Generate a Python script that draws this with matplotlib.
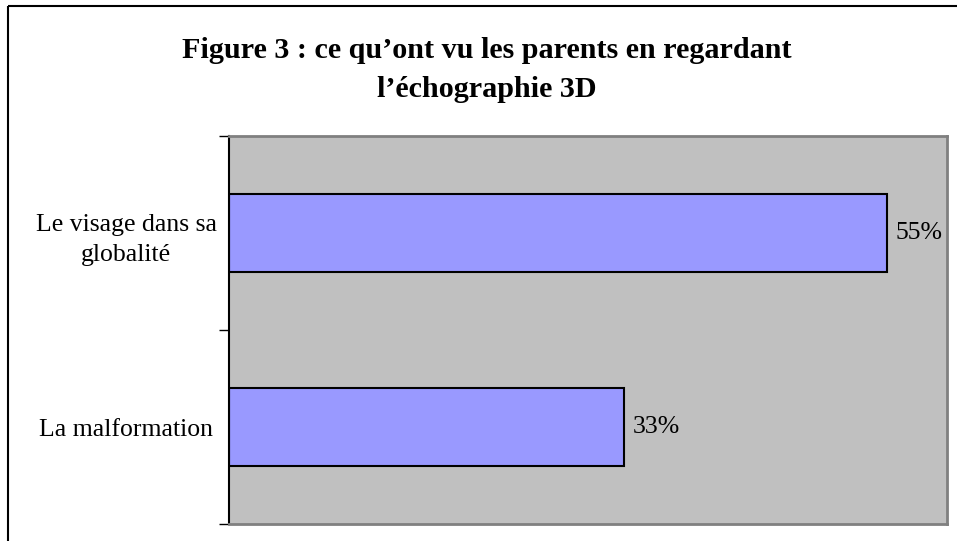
import numpy as np
import matplotlib.pyplot as plt
from matplotlib.patches import Rectangle

# data
categories = ['La malformation', 'Le visage dans sa\nglobalité']
values = [0.33, 0.55]
title = "Figure 3 : ce qu\u2019ont vu les parents en regardant\nl\u2019échographie 3D"

plt.rcParams['font.family'] = ['Liberation Serif', 'DejaVu Serif']

W, H = 957, 541
fig = plt.figure(figsize=(W / 100, H / 100), dpi=100)

# outer frame (only top and left edges visible)
fig.patches.append(Rectangle((8 / W, 1 - 6 / H), 2, -2, transform=fig.transFigure,
                             fill=False, edgecolor='black', linewidth=1.5))

ax = fig.add_axes([229 / W, 1 - 524 / H, 718 / W, 388 / H])
ax.set_facecolor('#c0c0c0')

y = np.arange(len(categories))
ax.barh(y, values, height=0.4, color='#9999ff', edgecolor='black', linewidth=1.5)

for yi, v in zip(y, values):
    ax.text(v + 0.007, yi, f'{v:.0%}', va='center', ha='left', fontsize=18.5)

ax.set_xlim(0, 0.6)
ax.set_ylim(-0.5, 1.5)
ax.set_xticks([])
ax.set_yticks(y)
ax.set_yticklabels(categories, fontsize=18.5, ha='center')
for lab in ax.get_yticklabels():
    lab.set_multialignment('center')
    lab.set_linespacing(1.5)
ax.tick_params(axis='y', which='major', length=0, pad=74)
ax.set_yticks([-0.5, 0.5, 1.5], minor=True)
ax.tick_params(axis='y', which='minor', length=7, width=1, direction='out')

for side in ['top', 'right', 'bottom']:
    ax.spines[side].set_color('#808080')
    ax.spines[side].set_linewidth(2)
ax.spines['left'].set_color('black')
ax.spines['left'].set_linewidth(1.5)

fig.text(487 / W, 1 - 70 / H, title, ha='center', va='center',
         fontsize=21.7, fontweight='bold', linespacing=1.55)

fig.savefig('out.png', dpi=100)
